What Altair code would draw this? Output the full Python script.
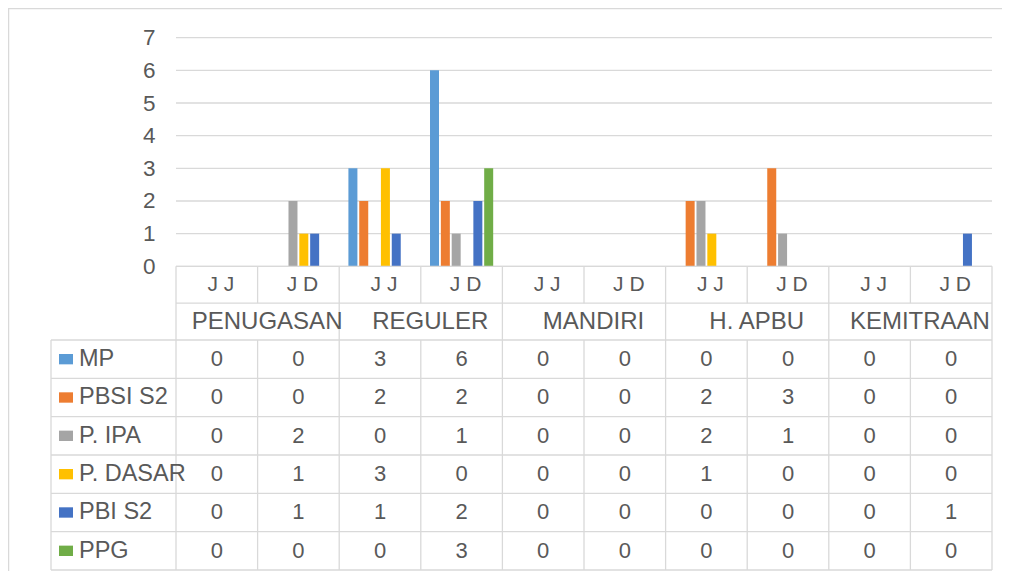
import altair as alt
import pandas as pd

# ---------------- data ----------------
categories = ["PENUGASAN", "REGULER", "MANDIRI", "H. APBU", "KEMITRAAN"]
subcategories = ["J J", "J D"]
series_names = ["MP", "PBSI S2", "P. IPA", "P. DASAR", "PBI S2", "PPG"]
series_colors = ["#5B9BD5", "#ED7D31", "#A5A5A5", "#FFC000", "#4472C4", "#70AD47"]
mp = [0, 0, 3, 6, 0, 0, 0, 0, 0, 0]
pbsi_s2 = [0, 0, 2, 2, 0, 0, 2, 3, 0, 0]
p_ipa = [0, 2, 0, 1, 0, 0, 2, 1, 0, 0]
p_dasar = [0, 1, 3, 0, 0, 0, 1, 0, 0, 0]
pbi_s2 = [0, 1, 1, 2, 0, 0, 0, 0, 0, 1]
ppg = [0, 0, 0, 3, 0, 0, 0, 0, 0, 0]
y_ticks = [0, 1, 2, 3, 4, 5, 6, 7]

series_values = [mp, pbsi_s2, p_ipa, p_dasar, pbi_s2, ppg]

# ---------------- layout / style ----------------
W, H = 994, 563
X0, X1 = 168, 984            # column area of plot + table
LABEL_LEFT = 43              # left edge of the row-header column
SQUARE_X = 58
LABEL_X = 71
Y_TOP, Y_ZERO = 29.7, 258.3
HEAD_ROW = 36.85
DATA_ROW = 38.33
TXT = "#595959"
LINE = "#D9D9D9"
FONT = "Liberation Sans"
END = "_end"

cols = [f"{c}|{s}" for c in categories for s in subcategories]
jj_cols = [f"{c}|{subcategories[0]}" for c in categories]
jd_cols = [f"{c}|{subcategories[1]}" for c in categories]
band = (X1 - X0) / len(cols)

x_scale = alt.Scale(type="band", domain=cols + [END], range=[X0, X1 + band],
                    paddingInner=0, paddingOuter=0)
y_bar = alt.Scale(type="linear", domain=[0, 7], range=[Y_ZERO, Y_TOP], nice=False, zero=True)
y_head = alt.Scale(type="band", domain=["sub", "cat", END],
                   range=[Y_ZERO, Y_ZERO + 3 * HEAD_ROW], paddingInner=0, paddingOuter=0)
data_top = Y_ZERO + 2 * HEAD_ROW
y_data = alt.Scale(type="band", domain=series_names + [END],
                   range=[data_top, data_top + 7 * DATA_ROW], paddingInner=0, paddingOuter=0)
color_scale = alt.Scale(domain=series_names, range=series_colors)

# ---------------- tables ----------------
bars_df = pd.DataFrame([
    {"col": cols[i], "series": s, "value": vals[i]}
    for s, vals in zip(series_names, series_values) for i in range(len(cols))
])
sub_df = pd.DataFrame({"col": cols, "label": [s for c in categories for s in subcategories], "row": "sub"})
cat_df = pd.DataFrame({"col": jd_cols, "label": categories, "row": "cat"})
ser_df = pd.DataFrame({"series": series_names})
grid_df = pd.DataFrame({"v": y_ticks, "a": cols[0], "b": END})

# ---------------- layers ----------------
grid = alt.Chart(grid_df).mark_rule(color=LINE, strokeWidth=1.3).encode(
    x=alt.X("a:N", scale=x_scale, bandPosition=0, axis=None),
    x2=alt.X2("b:N", bandPosition=0),
    y=alt.Y("v:Q", scale=y_bar, axis=None),
)

bars = alt.Chart(bars_df).mark_bar().encode(
    x=alt.X("col:N", scale=x_scale, axis=None, sort=None),
    xOffset=alt.XOffset("series:N", sort=series_names,
                        scale=alt.Scale(domain=series_names, paddingInner=0.17, paddingOuter=0.85)),
    y=alt.Y("value:Q", scale=y_bar,
            axis=alt.Axis(values=y_ticks, offset=-X0, domain=False, ticks=False, grid=False,
                          labelPadding=21, labelFontSize=22.5, labelColor=TXT, labelFont=FONT,
                          title=None)),
    color=alt.Color("series:N", scale=color_scale, legend=None),
)

# header horizontal lines (column area)
hh_df = pd.DataFrame({"r": ["sub", "cat"], "a": cols[0], "b": END})
head_h = alt.Chart(hh_df).mark_rule(color=LINE, strokeWidth=1.3).encode(
    x=alt.X("a:N", scale=x_scale, bandPosition=0, axis=None),
    x2=alt.X2("b:N", bandPosition=0),
    y=alt.Y("r:N", scale=y_head, bandPosition=0, axis=None),
)
# header vertical lines
hv_df = pd.DataFrame({
    "c": jj_cols + [END] + jd_cols,
    "y1": ["sub"] * (len(jj_cols) + 1 + len(jd_cols)),
    "y2": [END] * (len(jj_cols) + 1) + ["cat"] * len(jd_cols),
})
head_v = alt.Chart(hv_df).mark_rule(color=LINE, strokeWidth=1.3).encode(
    x=alt.X("c:N", scale=x_scale, bandPosition=0, axis=None),
    y=alt.Y("y1:N", scale=y_head, bandPosition=0, axis=None),
    y2=alt.Y2("y2:N", bandPosition=0),
)
# data horizontal lines (column area)
dh_df = pd.DataFrame({"r": series_names + [END], "a": cols[0], "b": END})
data_h = alt.Chart(dh_df).mark_rule(color=LINE, strokeWidth=1.3).encode(
    x=alt.X("a:N", scale=x_scale, bandPosition=0, axis=None),
    x2=alt.X2("b:N", bandPosition=0),
    y=alt.Y("r:N", scale=y_data, bandPosition=0, axis=None),
)
# data horizontal lines (row-header column)
dh_lab = alt.Chart(dh_df).mark_rule(color=LINE, strokeWidth=1.3).encode(
    x=alt.value(LABEL_LEFT),
    x2=alt.value(X0),
    y=alt.Y("r:N", scale=y_data, bandPosition=0, axis=None),
)
# data vertical lines
dv_df = pd.DataFrame({"c": cols + [END], "y1": series_names[0], "y2": END})
data_v = alt.Chart(dv_df).mark_rule(color=LINE, strokeWidth=1.3).encode(
    x=alt.X("c:N", scale=x_scale, bandPosition=0, axis=None),
    y=alt.Y("y1:N", scale=y_data, bandPosition=0, axis=None),
    y2=alt.Y2("y2:N", bandPosition=0),
)
lab_v = alt.Chart(pd.DataFrame({"y1": [series_names[0]], "y2": [END]})).mark_rule(
    color=LINE, strokeWidth=1.3).encode(
    x=alt.value(LABEL_LEFT),
    y=alt.Y("y1:N", scale=y_data, bandPosition=0, axis=None),
    y2=alt.Y2("y2:N", bandPosition=0),
)

# header texts
sub_txt = alt.Chart(sub_df).mark_text(fontSize=21, color=TXT, font=FONT, dx=4, baseline="middle").encode(
    x=alt.X("col:N", scale=x_scale, axis=None),
    y=alt.Y("row:N", scale=y_head, axis=None),
    text="label:N",
)
cat_txt = alt.Chart(cat_df).mark_text(fontSize=24, color=TXT, font=FONT, dx=9.5, baseline="middle").encode(
    x=alt.X("col:N", scale=x_scale, bandPosition=0, axis=None),
    y=alt.Y("row:N", scale=y_head, axis=None),
    text="label:N",
)
# values
num_txt = alt.Chart(bars_df).mark_text(fontSize=22, color=TXT, font=FONT, baseline="middle").encode(
    x=alt.X("col:N", scale=x_scale, axis=None),
    y=alt.Y("series:N", scale=y_data, axis=None),
    text="value:Q",
)
# row headers
ser_txt = alt.Chart(ser_df).mark_text(fontSize=23.5, color=TXT, font=FONT, align="left",
                                      baseline="middle").encode(
    x=alt.value(LABEL_X),
    y=alt.Y("series:N", scale=y_data, axis=None),
    text="series:N",
)
squares = alt.Chart(ser_df).mark_point(shape="M-1,-0.74H1V0.74H-1Z", filled=True, size=196,
                                       opacity=1, strokeWidth=0).encode(
    x=alt.value(SQUARE_X),
    y=alt.Y("series:N", scale=y_data, axis=None),
    color=alt.Color("series:N", scale=color_scale, legend=None),
)

# outer frame
frame_top = alt.Chart(pd.DataFrame({"k": [0]})).mark_rule(color=LINE, strokeWidth=1.3).encode(
    x=alt.value(0), x2=alt.value(W), y=alt.value(0.6))
frame_left = alt.Chart(pd.DataFrame({"k": [0]})).mark_rule(color=LINE, strokeWidth=1.3).encode(
    x=alt.value(0.6), y=alt.value(0), y2=alt.value(H))

chart = alt.layer(
    frame_top, frame_left,
    grid, bars,
    head_h, head_v, data_h, dh_lab, data_v, lab_v,
    sub_txt, cat_txt, num_txt, ser_txt, squares,
).resolve_scale(y="independent").properties(
    width=W, height=H, padding=0, autosize="none", background="white"
).configure_view(stroke=None)

chart.save("out.html", embed_options={"renderer": "svg", "actions": False})
